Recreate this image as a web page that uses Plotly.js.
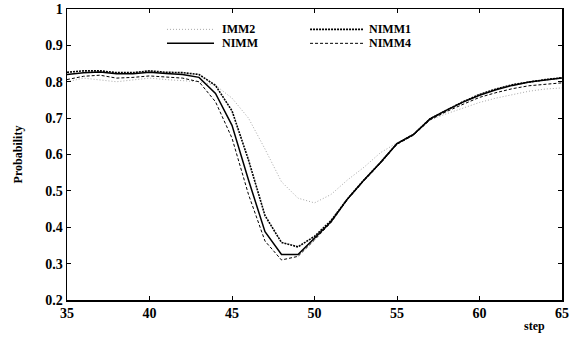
<!DOCTYPE html>
<html>
<head>
<meta charset="utf-8">
<script src="https://cdn.plot.ly/plotly-3.0.1.min.js"></script>
<style>html,body{margin:0;padding:0;background:#fff;}#chart{width:571px;height:345px;}</style>
</head>
<body>
<div id="chart"></div>
<script>
const steps = [35,36,37,38,39,40,41,42,43,44,45,46,47,48,49,50,51,52,53,54,55,56,57,58,59,60,61,62,63,64,65];
const imm2  = [0.800,0.810,0.805,0.800,0.805,0.810,0.806,0.803,0.800,0.790,0.755,0.700,0.615,0.525,0.480,0.467,0.490,0.530,0.565,0.605,0.632,0.655,0.695,0.712,0.728,0.743,0.755,0.765,0.774,0.780,0.783];
const nimm  = [0.820,0.825,0.827,0.822,0.822,0.826,0.823,0.820,0.812,0.768,0.680,0.530,0.388,0.325,0.325,0.370,0.415,0.478,0.530,0.578,0.630,0.655,0.698,0.722,0.744,0.763,0.778,0.790,0.799,0.805,0.810];
const nimm1 = [0.826,0.830,0.830,0.825,0.825,0.830,0.826,0.825,0.820,0.790,0.720,0.585,0.432,0.358,0.346,0.375,0.418,0.478,0.530,0.578,0.630,0.655,0.698,0.722,0.745,0.765,0.780,0.792,0.800,0.806,0.811];
const nimm4 = [0.806,0.815,0.818,0.810,0.812,0.816,0.813,0.810,0.800,0.745,0.645,0.490,0.362,0.310,0.320,0.365,0.413,0.476,0.528,0.576,0.628,0.653,0.695,0.718,0.738,0.757,0.770,0.781,0.789,0.794,0.797];
const seriesNames = ['IMM2','NIMM','NIMM1','NIMM4'];
const xTicks = [35,40,45,50,55,60,65];
const yTicks = [0.2,0.3,0.4,0.5,0.6,0.7,0.8,0.9,1];
const yTickText = ['0.2','0.3','0.4','0.5','0.6','0.7','0.8','0.9','1'];

const styles = [
  {color:'#a8a8a8', width:1, dash:'1px,2px'},
  {color:'#000', width:1.5, dash:'solid'},
  {color:'#000', width:1.6, dash:'2px,1px'},
  {color:'#000', width:1, dash:'3px,2px'}
];
const ys = [imm2, nimm, nimm1, nimm4];
const traces = ys.map((y,i)=>({x:steps, y:y, type:'scatter', mode:'lines', name:seriesNames[i], line:styles[i], showlegend:false}));

const font = {family:'Liberation Serif, Times New Roman, serif', size:13, color:'#000'};
// manual legend (two columns)
const legPos = [
  {x0:0.202, len:0.095, y:0.93, tx:0.310},   // IMM2
  {x0:0.202, len:0.095, y:0.882, tx:0.310},  // NIMM
  {x0:0.491, len:0.107, y:0.93, tx:0.606},   // NIMM1
  {x0:0.491, len:0.107, y:0.882, tx:0.606}   // NIMM4
];
const shapes = legPos.map((p,i)=>({type:'line', xref:'paper', yref:'paper', x0:p.x0, x1:p.x0+p.len, y0:p.y, y1:p.y, line:styles[i]}));
const annotations = legPos.map((p,i)=>({xref:'paper', yref:'paper', x:p.tx, y:p.y, xanchor:'left', yanchor:'middle', text:'<b>'+seriesNames[i]+'</b>', showarrow:false, font:{...font, size:12}}));
annotations.push({xref:'paper', yref:'paper', x:0.945, y:-0.09, xanchor:'center', yanchor:'middle', text:'<b>step</b>', showarrow:false, font:{...font, size:12}});

const layout = {
  width:571, height:345,
  margin:{l:67, r:9, t:9, b:45},
  paper_bgcolor:'#fff', plot_bgcolor:'#fff',
  showlegend:false,
  font:font,
  xaxis:{range:[35,65], tickvals:xTicks, ticktext:xTicks.map(String), ticks:'inside', ticklen:4, tickcolor:'#000',
         showline:true, mirror:'ticks', linecolor:'#000', linewidth:1.5, showgrid:false, zeroline:false,
         tickfont:{...font, size:14, weight:'bold'}},
  yaxis:{range:[0.2,1], tickvals:yTicks, ticktext:yTickText, ticks:'inside', ticklen:4, tickcolor:'#000',
         showline:true, mirror:'ticks', linecolor:'#000', linewidth:1.5, showgrid:false, zeroline:false,
         tickfont:{...font, size:14, weight:'bold'},
         title:{text:'<b>Probability</b>', font:{...font, size:12}, standoff:20}},
  shapes:shapes,
  annotations:annotations
};
Plotly.newPlot('chart', traces, layout, {staticPlot:true, displayModeBar:false});
</script>
</body>
</html>
